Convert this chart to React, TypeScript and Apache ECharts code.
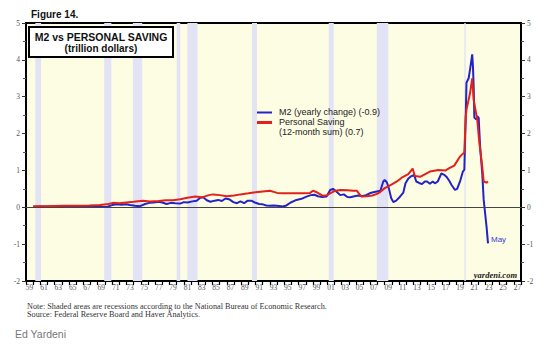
import React, { useEffect, useRef } from "react";
import * as echarts from "echarts";

// M2 yearly change (trillion dollars)
const m2Years = [
  1960.0, 1961.0, 1962.0, 1963.0, 1964.0, 1965.0, 1966.0, 1967.0, 1968.0, 1969.0, 1969.8, 1970.3,
  1971.0, 1971.6, 1972.3, 1973.0, 1973.5, 1974.2, 1974.9, 1975.6, 1976.2, 1976.8, 1977.5, 1978.0,
  1978.6, 1979.2, 1979.8, 1980.5, 1981.0, 1981.5, 1982.2, 1982.8, 1983.3, 1983.7, 1984.2, 1984.7,
  1985.3, 1985.8, 1986.3, 1986.8, 1987.3, 1987.9, 1988.4, 1988.9, 1989.4, 1989.9, 1990.4, 1990.9,
  1991.5, 1992.0, 1992.5, 1993.0, 1993.5, 1994.0, 1994.8, 1995.3, 1995.9, 1996.7, 1997.4, 1998.1,
  1998.7, 1999.2, 1999.7, 2000.3, 2000.9, 2001.4, 2001.8, 2002.3, 2002.8, 2003.3, 2003.8, 2004.2,
  2004.8, 2005.3, 2005.8, 2006.4, 2006.9, 2007.4, 2007.9, 2008.4, 2008.8, 2009.0, 2009.3, 2009.6,
  2009.9, 2010.2, 2010.6, 2011.1, 2011.6, 2011.9, 2012.3, 2012.6, 2013.1, 2013.4, 2013.8, 2014.2,
  2014.6, 2014.9, 2015.3, 2015.7, 2016.0, 2016.4, 2016.9, 2017.3, 2017.6, 2018.0, 2018.3, 2018.8,
  2019.1, 2019.5, 2019.9, 2020.1, 2020.3, 2020.4, 2020.7, 2020.9, 2021.2, 2021.3, 2021.4, 2021.5,
  2021.8, 2021.9, 2022.1, 2022.3, 2022.6, 2022.8, 2023.2, 2023.4,
];
const m2Values = [
  0.01, 0.02, 0.02, 0.02, 0.03, 0.03, 0.02, 0.03, 0.04, 0.03, 0.01, 0.01,
  0.06, 0.08, 0.07, 0.08, 0.06, 0.04, 0.03, 0.09, 0.12, 0.13, 0.15, 0.13,
  0.09, 0.12, 0.11, 0.1, 0.14, 0.13, 0.16, 0.18, 0.26, 0.27, 0.19, 0.15,
  0.18, 0.2, 0.17, 0.24, 0.22, 0.14, 0.11, 0.16, 0.11, 0.18, 0.18, 0.13,
  0.09, 0.08, 0.05, 0.04, 0.05, 0.04, 0.02, 0.05, 0.13, 0.2, 0.23, 0.29,
  0.33, 0.34, 0.3, 0.28, 0.29, 0.47, 0.5, 0.42, 0.33, 0.35, 0.28, 0.27,
  0.3, 0.32, 0.3, 0.33, 0.38, 0.41, 0.43, 0.45, 0.7, 0.74, 0.68, 0.5,
  0.25, 0.14, 0.18, 0.28, 0.4, 0.65, 0.78, 0.83, 0.88, 0.7, 0.66, 0.63,
  0.7, 0.7, 0.64, 0.7, 0.65, 0.7, 0.92, 0.88, 0.83, 0.72, 0.61, 0.47,
  0.5, 0.7, 0.97, 1.02, 2.5, 3.38, 3.5, 3.74, 4.15, 3.83, 3.29, 2.43,
  2.38, 2.47, 2.43, 1.65, 0.92, 0.2, -0.53, -0.98,
];

// Personal saving, 12-month sum (trillion dollars)
const savingYears = [
  1960.0, 1962.0, 1964.0, 1966.0, 1968.0, 1969.3, 1970.5, 1971.1, 1972.0, 1973.0, 1974.0, 1975.3,
  1976.3, 1977.5, 1978.5, 1979.5, 1980.5, 1981.5, 1982.6, 1983.5, 1984.5, 1985.1, 1986.0, 1987.0,
  1988.0, 1988.9, 1990.0, 1991.0, 1992.0, 1993.0, 1994.0, 1995.0, 1996.5, 1997.5, 1998.6, 1999.0,
  1999.6, 2000.4, 2001.0, 2001.4, 2002.0, 2002.8, 2003.8, 2004.6, 2005.1, 2005.5, 2005.8, 2006.5,
  2007.3, 2008.0, 2008.4, 2009.0, 2010.0, 2010.7, 2011.5, 2012.3, 2012.9, 2013.2, 2014.0, 2015.3,
  2016.5, 2017.5, 2018.0, 2018.7, 2019.5, 2020.1, 2020.3, 2020.4, 2020.9, 2021.2, 2021.4, 2021.9,
  2022.2, 2022.6, 2022.8, 2023.2, 2023.4,
];
const savingValues = [
  0.03, 0.03, 0.04, 0.04, 0.05, 0.06, 0.09, 0.12, 0.11, 0.13, 0.15, 0.18,
  0.16, 0.17, 0.19, 0.19, 0.22, 0.26, 0.29, 0.27, 0.33, 0.35, 0.33, 0.3,
  0.32, 0.35, 0.38, 0.41, 0.43, 0.45, 0.39, 0.38, 0.38, 0.38, 0.39, 0.45,
  0.4, 0.31, 0.33, 0.38, 0.44, 0.47, 0.46, 0.45, 0.45, 0.35, 0.29, 0.3,
  0.32, 0.37, 0.42, 0.52, 0.62, 0.7, 0.82, 0.9, 1.05, 0.85, 0.83, 0.97,
  1.01, 1.0, 1.06, 1.13, 1.38, 1.49, 2.47, 2.65, 3.1, 3.5, 2.92, 2.38,
  1.74, 1.1, 0.7, 0.67, 0.7,
];

// Recessions (NBER), decimal years
const recessionStarts = [1960.3, 1969.9, 1973.9, 1980.0, 1981.5, 1990.5, 2001.2, 2007.9, 2020.1];
const recessionEnds = [1961.1, 1970.9, 1975.2, 1980.5, 1982.9, 1991.2, 2001.9, 2009.5, 2020.3];

// Axis ranges and tick labels
const xMin = 1959;
const xMax = 2028;
const xLabelYears = Array.from({ length: 35 }, (_, i) => 1959 + i * 2); // 59 .. 27
const yMin = -2;
const yMax = 5;

const BLUE = "#2323c8";
const RED = "#e3201b";

export default function App() {
  const ref = useRef<HTMLDivElement>(null);

  useEffect(() => {
    if (!ref.current) return;
    const chart = echarts.init(ref.current, undefined, { renderer: "svg" });

    const m2Data = m2Years.map((y, i) => [y, m2Values[i]]);
    const savingData = savingYears.map((y, i) => [y, savingValues[i]]);
    const bands = recessionStarts.map((s, i) => [{ xAxis: s }, { xAxis: recessionEnds[i] }]);
    const yearTicks: number[] = [];
    for (let y = xMin; y <= xMax; y++) yearTicks.push(y);

    const yAxisCommon = {
      type: "value",
      min: yMin,
      max: yMax,
      interval: 1,
      splitLine: { show: false },
      axisLine: { show: true, lineStyle: { color: "#000", width: 2 } },
      axisTick: { show: true, length: 4, lineStyle: { color: "#333" } },
      minorTick: { show: true, splitNumber: 2, length: 3, lineStyle: { color: "#555" } },
      axisLabel: {
        fontSize: 7.5,
        fontFamily: "Liberation Serif",
        color: "#555",
        margin: 6,
      },
    };

    chart.setOption({
      animation: false,
      grid: {
        left: 26,
        right: 29,
        top: 23,
        bottom: 81,
        show: true,
        backgroundColor: "#fdfde4",
        borderColor: "#000",
        borderWidth: 2,
      },
      xAxis: {
        type: "value",
        min: xMin,
        max: xMax,
        interval: 1,
        splitLine: { show: false },
        axisLine: { show: true, onZero: false, lineStyle: { color: "#000", width: 2 } },
        axisTick: {
          show: true,
          length: 4,
          customValues: yearTicks,
          lineStyle: { color: "#000", width: 1.2 },
        },
        axisLabel: {
          customValues: xLabelYears.map((y) => y + 0.5),
          formatter: (v: number) => String(Math.floor(v) % 100).padStart(2, "0"),
          fontSize: 7.5,
          fontFamily: "Liberation Serif",
          color: "#555",
          margin: 2,
        },
      },
      yAxis: [
        { ...yAxisCommon, position: "left" },
        { ...yAxisCommon, position: "right" },
      ],
      series: [
        {
          type: "line",
          name: "M2 (yearly change)",
          data: m2Data,
          showSymbol: false,
          lineStyle: { color: BLUE, width: 2 },
          itemStyle: { color: BLUE },
          z: 3,
          markArea: {
            silent: true,
            itemStyle: { color: "#e3e3f6" },
            data: bands,
          },
          markLine: {
            silent: true,
            symbol: "none",
            label: { show: false },
            lineStyle: { color: "#444", width: 1, type: "solid" },
            data: [{ yAxis: 0 }],
          },
        },
        {
          type: "line",
          name: "Personal Saving",
          data: savingData,
          showSymbol: false,
          lineStyle: { color: RED, width: 2 },
          itemStyle: { color: RED },
          z: 4,
        },
      ],
      graphic: [
        {
          type: "text",
          left: 31,
          top: 9,
          style: { text: "Figure 14.", font: "bold 10px 'Liberation Sans', Arial", fill: "#111" },
        },
        {
          type: "rect",
          shape: { x: 29, y: 27, width: 144, height: 30 },
          style: { fill: "#fff", stroke: "#000", lineWidth: 2 },
          z: 10,
        },
        {
          type: "text",
          x: 101,
          y: 37,
          z: 11,
          style: {
            text: "M2 vs PERSONAL SAVING",
            font: "bold 10.5px 'Liberation Sans', Arial",
            fill: "#111",
            align: "center",
            verticalAlign: "middle",
          },
        },
        {
          type: "text",
          x: 101,
          y: 48,
          z: 11,
          style: {
            text: "(trillion dollars)",
            font: "bold 10px 'Liberation Sans', Arial",
            fill: "#111",
            align: "center",
            verticalAlign: "middle",
          },
        },
        {
          type: "line",
          shape: { x1: 257, y1: 112.5, x2: 272, y2: 112.5 },
          style: { stroke: BLUE, lineWidth: 2 },
          z: 10,
        },
        {
          type: "line",
          shape: { x1: 257, y1: 122.5, x2: 272, y2: 122.5 },
          style: { stroke: RED, lineWidth: 3 },
          z: 10,
        },
        {
          type: "text",
          x: 279,
          y: 112,
          z: 10,
          style: {
            text: "M2 (yearly change) (-0.9)",
            font: "9px 'Liberation Sans', Arial",
            fill: "#222",
            verticalAlign: "middle",
          },
        },
        {
          type: "text",
          x: 279,
          y: 122,
          z: 10,
          style: {
            text: "Personal Saving",
            font: "9px 'Liberation Sans', Arial",
            fill: "#222",
            verticalAlign: "middle",
          },
        },
        {
          type: "text",
          x: 279,
          y: 132,
          z: 10,
          style: {
            text: "(12-month sum) (0.7)",
            font: "9px 'Liberation Sans', Arial",
            fill: "#222",
            verticalAlign: "middle",
          },
        },
        {
          type: "text",
          x: 491,
          y: 239,
          z: 10,
          style: {
            text: "May",
            font: "8px 'Liberation Sans', Arial",
            fill: "#3b3bd0",
            verticalAlign: "middle",
          },
        },
        {
          type: "text",
          x: 517,
          y: 275,
          z: 10,
          style: {
            text: "yardeni.com",
            font: "italic bold 8.5px 'Liberation Serif', serif",
            fill: "#222",
            align: "right",
            verticalAlign: "middle",
          },
        },
        {
          type: "text",
          x: 27,
          y: 306,
          style: {
            text: "Note: Shaded areas are recessions according to the National Bureau of Economic Research.",
            font: "8.2px 'Liberation Serif', serif",
            fill: "#333",
            verticalAlign: "middle",
          },
        },
        {
          type: "text",
          x: 27,
          y: 314.5,
          style: {
            text: "Source: Federal Reserve Board and Haver Analytics.",
            font: "8.2px 'Liberation Serif', serif",
            fill: "#333",
            verticalAlign: "middle",
          },
        },
        {
          type: "text",
          x: 15,
          y: 334,
          style: {
            text: "Ed Yardeni",
            font: "10.5px 'Liberation Sans', Arial",
            fill: "#777",
            verticalAlign: "middle",
          },
        },
      ],
    });

    return () => chart.dispose();
  }, []);

  return (
    <div
      ref={ref}
      style={{ position: "fixed", left: 0, top: 0, width: 550, height: 362, background: "#fff" }}
    />
  );
}
